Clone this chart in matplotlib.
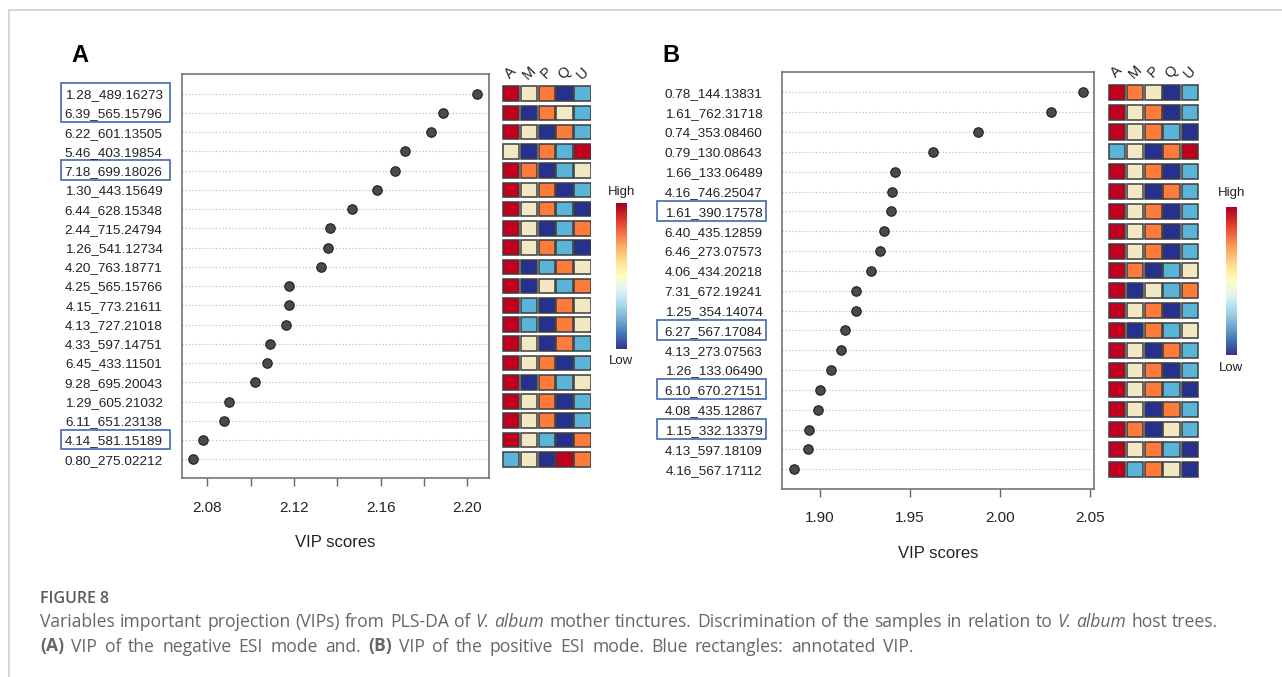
import matplotlib
matplotlib.use("Agg")
import matplotlib.pyplot as plt
import matplotlib.transforms as mtransforms
from matplotlib.patches import Rectangle
from matplotlib.lines import Line2D
from matplotlib.colors import ListedColormap, BoundaryNorm
import numpy as np

plt.rcParams['font.family'] = ['Liberation Sans', 'DejaVu Sans']

# ---------------- data ----------------
columns = ['A', 'M', 'P', 'Q', 'U']

labels_A = ['1.28_489.16273', '6.39_565.15796', '6.22_601.13505', '5.46_403.19854',
            '7.18_699.18026', '1.30_443.15649', '6.44_628.15348', '2.44_715.24794',
            '1.26_541.12734', '4.20_763.18771', '4.25_565.15766', '4.15_773.21611',
            '4.13_727.21018', '4.33_597.14751', '6.45_433.11501', '9.28_695.20043',
            '1.29_605.21032', '6.11_651.23138', '4.14_581.15189', '0.80_275.02212']
vip_A = [2.2047, 2.1886, 2.1831, 2.1714, 2.1668, 2.1583, 2.1470, 2.1365, 2.1358, 2.1324,
         2.1177, 2.1175, 2.1163, 2.1091, 2.1076, 2.1020, 2.0901, 2.0876, 2.0781, 2.0735]
heat_A = [[5, 3, 4, 1, 2], [5, 1, 4, 3, 2], [5, 3, 1, 4, 2], [3, 1, 4, 2, 5],
          [5, 4, 1, 2, 3], [5, 3, 4, 1, 2], [5, 3, 4, 2, 1], [5, 3, 1, 2, 4],
          [5, 3, 4, 2, 1], [5, 1, 2, 4, 3], [5, 1, 3, 2, 4], [5, 2, 1, 4, 3],
          [5, 2, 1, 4, 3], [5, 3, 1, 4, 2], [5, 3, 4, 1, 2], [5, 1, 4, 2, 3],
          [5, 3, 4, 1, 2], [5, 3, 4, 1, 2], [5, 3, 2, 1, 4], [2, 3, 1, 5, 4]]
annotated_A = [0, 1, 4, 18]
xticks_A = [2.08, 2.10, 2.12, 2.14, 2.16, 2.18, 2.20]
xticklabels_A = ['2.08', '', '2.12', '', '2.16', '', '2.20']

labels_B = ['0.78_144.13831', '1.61_762.31718', '0.74_353.08460', '0.79_130.08643',
            '1.66_133.06489', '4.16_746.25047', '1.61_390.17578', '6.40_435.12859',
            '6.46_273.07573', '4.06_434.20218', '7.31_672.19241', '1.25_354.14074',
            '6.27_567.17084', '4.13_273.07563', '1.26_133.06490', '6.10_670.27151',
            '4.08_435.12867', '1.15_332.13379', '4.13_597.18109', '4.16_567.17112']
vip_B = [2.0461, 2.0283, 1.9877, 1.9629, 1.9416, 1.9403, 1.9397, 1.9359, 1.9333, 1.9287,
         1.9204, 1.9199, 1.9142, 1.9120, 1.9063, 1.9000, 1.8991, 1.8943, 1.8934, 1.8857]
heat_B = [[5, 4, 3, 1, 2], [5, 3, 4, 1, 2], [5, 3, 4, 2, 1], [2, 3, 1, 4, 5],
          [5, 3, 4, 1, 2], [5, 3, 1, 4, 2], [5, 3, 4, 1, 2], [5, 3, 4, 1, 2],
          [5, 3, 4, 1, 2], [5, 4, 1, 2, 3], [5, 1, 3, 2, 4], [5, 3, 4, 1, 2],
          [5, 1, 4, 2, 3], [5, 3, 1, 4, 2], [5, 3, 4, 1, 2], [5, 3, 4, 2, 1],
          [5, 3, 1, 4, 2], [5, 4, 1, 3, 2], [5, 3, 4, 2, 1], [5, 2, 4, 3, 1]]
annotated_B = [6, 12, 15, 17]
xticks_B = [1.90, 1.95, 2.00, 2.05]
xticklabels_B = ['1.90', '1.95', '2.00', '2.05']

caption_title = 'FIGURE 8'
caption_line1 = [('Variables important projection (VIPs) from PLS-DA of', 'normal', 'normal'),
                 ('V. album', 'italic', 'normal'),
                 ('mother tinctures. Discrimination of the samples in relation to', 'normal', 'normal'),
                 ('V. album', 'italic', 'normal'),
                 ('host trees.', 'normal', 'normal')]
caption_line2 = [('(A)', 'normal', 'bold'),
                 ('VIP of the negative ESI mode and.', 'normal', 'normal'),
                 ('(B)', 'normal', 'bold'),
                 ('VIP of the positive ESI mode. Blue rectangles: annotated VIP.', 'normal', 'normal')]

# ---------------- style ----------------
W, H = 1282, 677
fig = plt.figure(figsize=(W / 100, H / 100), dpi=100)
fig.patch.set_facecolor('white')

heat_colors = ['#26308f', '#5ab4d8', '#f2e9c4', '#fd7c3c', '#c0001e']
heat_cmap = ListedColormap(heat_colors)
heat_norm = BoundaryNorm([0.5, 1.5, 2.5, 3.5, 4.5, 5.5], heat_cmap.N)
box_color = '#3f6aae'
text_col = '#222222'


def px_axes(l, t, r, b):
    return fig.add_axes([l / W, 1 - b / H, (r - l) / W, (b - t) / H])


def fy(y):
    return 1 - y / H


def panel(labels, vip, heat, annotated, xticks, xticklabels, xlim,
          main_box, heat_box, cbar_box, ylim, letter_xy, collab_y,
          high_y, low_y, vip_y, ann_box_x):
    n = len(labels)
    ypos = np.arange(n)[::-1]
    ax = px_axes(*main_box)
    for yy in ypos:
        ax.axhline(yy, color='#b8b8b8', lw=0.8, ls=(0, (1, 2)), zorder=1)
    ax.plot(vip, ypos, 'o', ms=6.8, mfc='#4a4a4a', mec='#1e1e1e', mew=0.8, zorder=3, ls='none')
    ax.set_xlim(*xlim)
    ax.set_ylim(*ylim)
    ax.set_yticks(ypos)
    ax.set_yticklabels(labels, fontsize=9.7, color=text_col)
    ax.tick_params(axis='y', length=0, pad=14)
    ax.set_xticks(xticks)
    ax.set_xticklabels(xticklabels, fontsize=11, color=text_col)
    ax.tick_params(axis='x', length=5.8, width=1.0, color='#666666', pad=10.5, direction='out')
    for s in ax.spines.values():
        s.set_color('#6a6a6a')
        s.set_linewidth(1.1)
    cx = (main_box[0] + main_box[2]) / 2
    fig.text(cx / W, fy(vip_y), 'VIP scores', fontsize=12, color=text_col, ha='center', va='center')

    # annotation boxes (group consecutive indices)
    groups = []
    for i in sorted(annotated):
        if groups and i == groups[-1][1] + 1:
            groups[-1][1] = i
        else:
            groups.append([i, i])
    trans = mtransforms.blended_transform_factory(fig.transFigure, ax.transData)
    for g0, g1 in groups:
        ytop = ypos[g0] + 0.53
        ybot = ypos[g1] - 0.47
        rect = Rectangle((ann_box_x[0] / W, ybot), (ann_box_x[1] - ann_box_x[0]) / W, ytop - ybot,
                         transform=trans, fill=False, ec=box_color, lw=1.2, clip_on=False)
        ax.add_patch(rect)

    # heatmap
    hx = px_axes(heat_box[0], main_box[1], heat_box[1], main_box[3])
    hx.set_xlim(0, len(columns))
    hx.set_ylim(*ylim)
    hx.axis('off')
    sw, sh = 0.91, 0.76
    for r, yy in enumerate(ypos):
        for c in range(len(columns)):
            v = heat[r][c]
            hx.add_patch(Rectangle((c + 0.5 - sw / 2, yy - sh / 2), sw, sh,
                                   fc=heat_cmap(heat_norm(v)), ec='#3c3c3c', lw=1.1))
    ctrans = mtransforms.blended_transform_factory(hx.transData, fig.transFigure)
    for c, name in enumerate(columns):
        hx.text(c + 0.5, fy(collab_y), name, transform=ctrans, rotation=45,
                ha='center', va='center', fontsize=10.5, color=text_col, clip_on=False)

    # colorbar
    cb = px_axes(*cbar_box)
    grad = np.linspace(1, 0, 256)[:, None]
    cb.imshow(grad, aspect='auto', cmap='RdYlBu_r', extent=[0, 1, 0, 1])
    cb.axis('off')
    ccx = (cbar_box[0] + cbar_box[2]) / 2
    fig.text(ccx / W, fy(high_y), 'High', fontsize=9.5, ha='center', va='center', color=text_col)
    fig.text(ccx / W, fy(low_y), 'Low', fontsize=9.5, ha='center', va='center', color=text_col)

    fig.text(letter_xy[0] / W, fy(letter_xy[1]), letter_xy[2], fontsize=17,
             fontweight='bold', ha='left', va='baseline', color='black')
    return ax


panel(labels_A, vip_A, heat_A, annotated_A, xticks_A, xticklabels_A, (2.0683, 2.2099),
      main_box=(182, 74, 488.7, 478.3), heat_box=(502, 591.4), cbar_box=(616, 203, 627, 349),
      ylim=(-0.99, 20.02), letter_xy=(71, 62, 'A'), collab_y=73, high_y=191.7, low_y=360.7,
      vip_y=542.3, ann_box_x=(61, 169.5))

panel(labels_B, vip_B, heat_B, annotated_B, xticks_B, xticklabels_B, (1.8791, 2.0522),
      main_box=(782, 72.3, 1094, 488.7), heat_box=(1107.8, 1199), cbar_box=(1226, 206.7, 1237, 355),
      ylim=(-0.98, 20.01), letter_xy=(662, 62, 'B'), collab_y=72, high_y=193, low_y=368,
      vip_y=553, ann_box_x=(657, 766))

# frame lines
fig.add_artist(Line2D([9 / W, 1], [fy(10), fy(10)], color='#cfcfcf', lw=1.2))
fig.add_artist(Line2D([9 / W, 9 / W], [fy(10), 0], color='#cfcfcf', lw=1.2))

# caption
cap_font = ['Open Sans', 'DejaVu Sans']
cap_col = '#666666'
fig.text(40 / W, fy(603.3), caption_title, fontsize=11.5, fontweight='semibold',
         family=cap_font, color='#5a5a5a', ha='left', va='baseline')

renderer = fig.canvas.get_renderer()


def split_words(segments):
    words = []
    for txt, style, weight in segments:
        for w in txt.split(' '):
            if w:
                words.append((w, style, weight))
    return words


def natural_width(segments, size):
    words = split_words(segments)
    tot = 0.0
    for w, style, weight in words:
        t = fig.text(0, 0, w, fontsize=size, fontstyle=style, fontweight=weight, family=cap_font)
        tot += t.get_window_extent(renderer=renderer).width
        t.remove()
    sp = fig.text(0, 0, 'a a', fontsize=size, family=cap_font)
    sa = fig.text(0, 0, 'aa', fontsize=size, family=cap_font)
    space = sp.get_window_extent(renderer=renderer).width - sa.get_window_extent(renderer=renderer).width
    sp.remove()
    sa.remove()
    return tot + space * (len(words) - 1)


def justify(segments, x0, x1, ybase, size):
    words = split_words(segments)
    arts, widths = [], []
    for w, style, weight in words:
        t = fig.text(0, fy(ybase), w, fontsize=size, fontstyle=style, fontweight=weight,
                     family=cap_font, color=cap_col, ha='left', va='baseline')
        arts.append(t)
        widths.append(t.get_window_extent(renderer=renderer).width)
    gap = (x1 - x0 - sum(widths)) / (len(words) - 1)
    x = x0
    for t, wdt in zip(arts, widths):
        t.set_x(x / W)
        x += wdt + gap


base = 10.5
nw = natural_width(caption_line1, base)
cap_size = base * (1218 - 40) / nw * 0.995
justify(caption_line1, 40, 1218, 627, cap_size)
justify(caption_line2, 40, 913, 651.5, cap_size)

fig.savefig('out.png', dpi=100, facecolor='white')
